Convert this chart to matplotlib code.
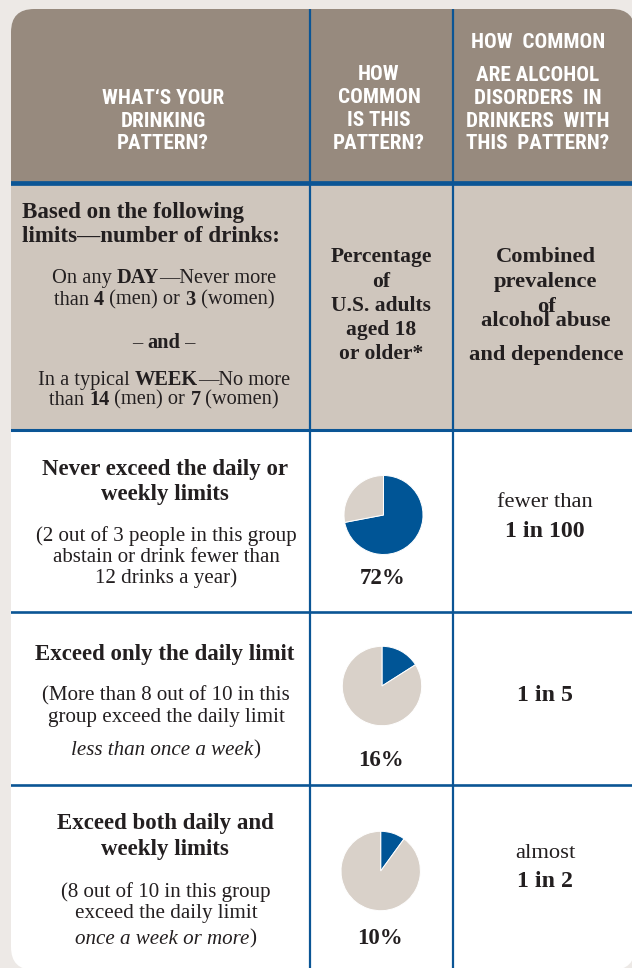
import re
import matplotlib
matplotlib.use('Agg')
import matplotlib.pyplot as plt
from matplotlib.patches import FancyBboxPatch, Rectangle
from matplotlib import font_manager

# ---- data ----
header_col1 = ["WHAT‘S YOUR", "DRINKING", "PATTERN?"]
header_col2 = ["HOW", "COMMON", "IS THIS", "PATTERN?"]
header_col3 = ["HOW  COMMON", "ARE ALCOHOL", "DISORDERS  IN", "DRINKERS  WITH", "THIS  PATTERN?"]

limits_title = ["Based on the following", "limits—number of drinks:"]
limits_lines = ["On any **DAY**—Never more", "than **4** (men) or **3** (women)",
                "– **and** –",
                "In a typical **WEEK**—No more", "than **14** (men) or **7** (women)"]
share_desc = ["Percentage", "of", "U.S. adults", "aged 18", "or older*"]
prev_desc = ["Combined", "prevalence", "of", "alcohol abuse", "and dependence"]

patterns = [["Never exceed the daily or", "weekly limits"],
            ["Exceed only the daily limit"],
            ["Exceed both daily and", "weekly limits"]]
pattern_notes = [["(2 out of 3 people in this group", "abstain or drink fewer than", "12 drinks a year)"],
                 ["(More than 8 out of 10 in this", "group exceed the daily limit", "_less than once a week_)"],
                 ["(8 out of 10 in this group", "exceed the daily limit", "_once a week or more_)"]]
share_pct = [72, 16, 10]
prev_prefix = ["fewer than", "", "almost"]
prev_value = ["1 in 100", "1 in 5", "1 in 2"]

# ---- style ----
W, H = 632, 968
BG = '#EDE9E6'
HEAD = '#978A7E'
SUB = '#CFC6BD'
BLUE = '#0B5595'
PIE_BLUE = '#005596'
PIE_GRAY = '#D9D1C9'
INK = '#231F20'
SERIF = 'Liberation Serif'

# header font: a narrow sans if there is one, else Liberation Sans a bit smaller
names = {f.name for f in font_manager.fontManager.ttflist}
HEAD_FONT, HEAD_SIZE = 'Liberation Sans', 12.8
for cand in ['Liberation Sans Narrow', 'Roboto Condensed', 'Open Sans Condensed', 'DejaVu Sans Condensed']:
    if cand in names:
        HEAD_FONT, HEAD_SIZE = cand, 15.2
        break


def parse(line):
    parts = []
    for tok in re.split(r'(\*\*.*?\*\*|_.*?_)', line):
        if not tok:
            continue
        if tok.startswith('**'):
            parts.append((tok[2:-2], 'bold', 'normal'))
        elif tok.startswith('_'):
            parts.append((tok[1:-1], 'normal', 'italic'))
        else:
            parts.append((tok, 'normal', 'normal'))
    return parts


def draw_line(ax, x, y, line, size, weight=None, ha='center'):
    """y is the middle of the capitals; mixed bold/italic runs are laid out side by side"""
    r = ax.figure.canvas.get_renderer()
    parts = parse(line)
    if weight:
        parts = [(s, weight, st) for s, w, st in parts]
    base = y + 0.33 * size * 100 / 72
    widths = []
    for s, w, st in parts:
        a = ax.text(0, 0, '|' + s + '|', fontsize=size, fontweight=w, fontstyle=st, family=SERIF)
        b = ax.text(0, 0, '||', fontsize=size, fontweight=w, fontstyle=st, family=SERIF)
        widths.append(a.get_window_extent(r).width - b.get_window_extent(r).width)
        a.remove()
        b.remove()
    x0 = x - sum(widths) / 2 if ha == 'center' else x
    for (s, w, st), wd in zip(parts, widths):
        ax.text(x0, base, s, fontsize=size, fontweight=w, fontstyle=st, family=SERIF,
                color=INK, ha='left', va='baseline')
        x0 += wd


def head_line(ax, x, y, s):
    ax.text(x, y + 0.35 * HEAD_SIZE * 100 / 72, s, fontsize=HEAD_SIZE, fontweight='bold',
            family=HEAD_FONT, color='white', ha='center', va='baseline')


fig = plt.figure(figsize=(W / 100, H / 100), dpi=100)
fig.patch.set_facecolor(BG)
ax = fig.add_axes([0, 0, 1, 1])
ax.set_xlim(0, W)
ax.set_ylim(H, 0)
ax.axis('off')

box = FancyBboxPatch((11, 9), 624, 961, boxstyle='round,pad=0,rounding_size=23',
                     facecolor='white', edgecolor='none')
ax.add_patch(box)
for rect in [Rectangle((0, 0), W + 10, 183, facecolor=HEAD, edgecolor='none'),
             Rectangle((0, 183), W + 10, 247, facecolor=SUB, edgecolor='none')]:
    ax.add_patch(rect)
    rect.set_clip_path(box)

# grid lines
for y, lw in [(183, 3.4), (430, 2.2), (612, 1.9), (785, 1.9)]:
    ln, = ax.plot([0, W + 10], [y, y], color=BLUE, lw=lw, solid_capstyle='butt')
    ln.set_clip_path(box)
for x in [309.5, 452.5]:
    ln, = ax.plot([x, x], [0, H + 10], color=BLUE, lw=1.6, solid_capstyle='butt')
    ln.set_clip_path(box)

# header
for s, y in zip(header_col1, [97, 120, 142]):
    head_line(ax, 163, y, s)
for s, y in zip(header_col2, [73, 96, 119, 142]):
    head_line(ax, 379, y, s)
for s, y in zip(header_col3, [41, 74, 97, 120, 142]):
    head_line(ax, 538, y, s)

# sub header
for s, y in zip(limits_title, [210, 234]):
    draw_line(ax, 22, y, s, 16.6, weight='bold', ha='left')
for s, y in zip(limits_lines, [276, 298, 341, 378, 398]):
    draw_line(ax, 164, y, s, 14.7)
for s, y in zip(share_desc, [255, 280, 304, 328, 352]):
    draw_line(ax, 381, y, s, 15.5, weight='bold')
for s, y in zip(prev_desc, [255, 280, 305, 319, 353]):
    draw_line(ax, 546, y, s, 16.2, weight='bold')

# rows
title_y = [[467, 492], [652], [821, 847]]
note_y = [[534, 555, 576], [694, 715, 748], [890, 911, 937]]
for i in range(3):
    for s, y in zip(patterns[i], title_y[i]):
        draw_line(ax, 165, y, s, 16.5, weight='bold')
    for s, y in zip(pattern_notes[i], note_y[i]):
        draw_line(ax, 166, y, s, 15.1)

pie_pos = [(383.5, 515, 39.5), (382, 686, 39.7), (380.7, 871, 39.7)]
pct_y = [576, 758, 936]
prev_y = [(500, 529), (None, 693), (851, 879)]
for i, pct in enumerate(share_pct):
    cx, cy, rr = pie_pos[i]
    pax = fig.add_axes([(cx - rr * 1.03) / W, 1 - (cy + rr * 1.03) / H, 2.06 * rr / W, 2.06 * rr / H])
    pax.pie([pct, 100 - pct], colors=[PIE_BLUE, PIE_GRAY], startangle=90, counterclock=False,
            wedgeprops=dict(edgecolor='white', linewidth=0.7))
    pax.set_xlim(-1.03, 1.03)
    pax.set_ylim(-1.03, 1.03)
    draw_line(ax, cx - 1, pct_y[i], f"{pct}%", 16.5, weight='bold')
    if prev_prefix[i]:
        draw_line(ax, 545, prev_y[i][0], prev_prefix[i], 16.2)
    draw_line(ax, 545, prev_y[i][1], prev_value[i], 17.2, weight='bold')

fig.savefig('out.png', dpi=100, facecolor=BG)
